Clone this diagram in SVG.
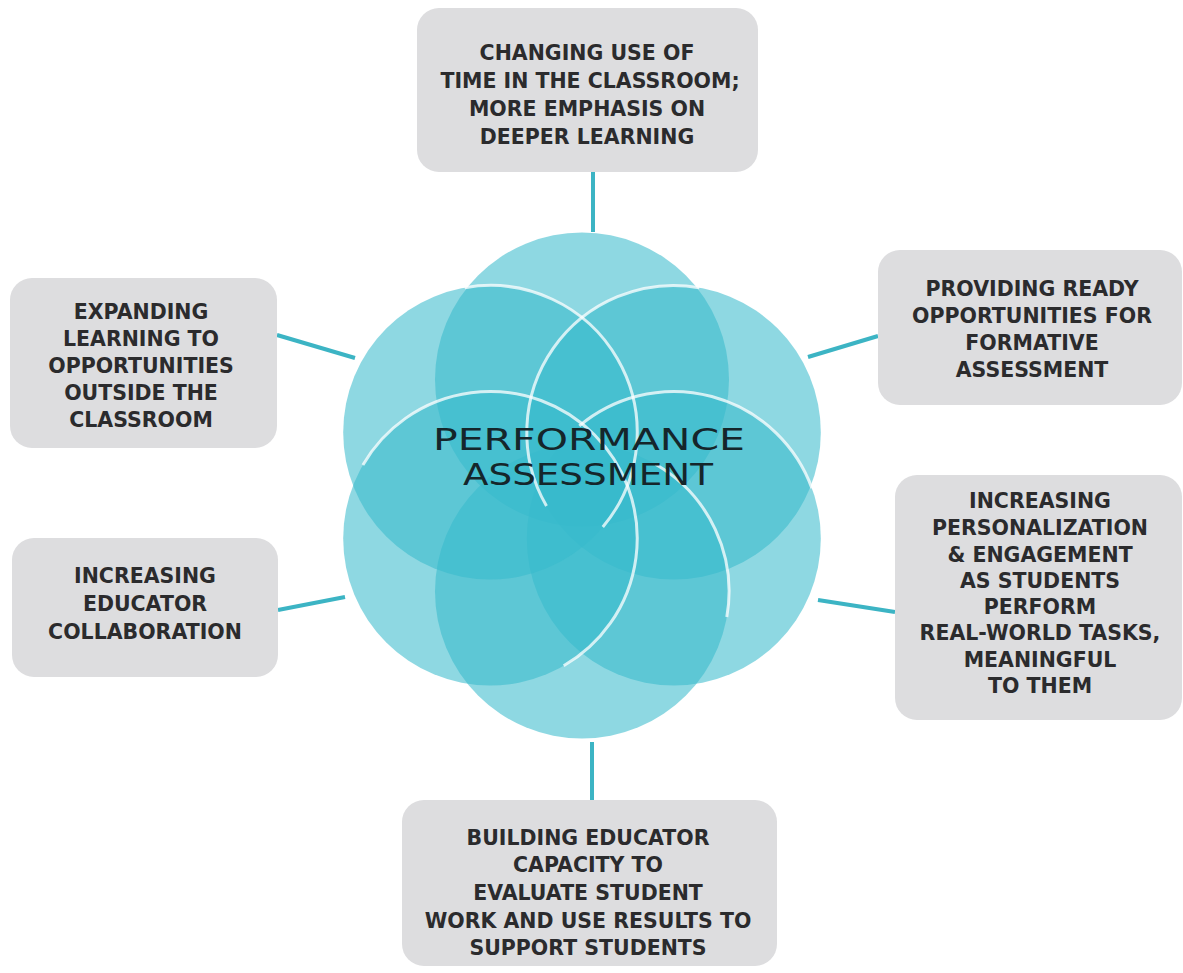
<svg xmlns="http://www.w3.org/2000/svg" width="1183" height="973" viewBox="0 0 1183 973">
<style>
.box{fill:#DDDDDF;}
.lbl{font-family:"DejaVu Sans","Liberation Sans",sans-serif;font-weight:700;font-size:20.5px;fill:#2B2B2D;text-anchor:middle;}
.petal{fill:#37BACC;fill-opacity:0.566;}
.weave{fill:none;stroke:#FFFFFF;stroke-opacity:0.75;stroke-width:3;}
.conn{stroke:#3CB4C4;stroke-width:4;fill:none;}
.center{font-family:"DejaVu Sans","Liberation Sans",sans-serif;font-weight:400;font-size:31px;fill:#15262B;text-anchor:middle;}
</style>
<rect width="1183" height="973" fill="#FFFFFF"/>
<g id="connectors">
<line class="conn" x1="593" y1="172" x2="593" y2="232"/>
<line class="conn" x1="592" y1="742" x2="592" y2="800"/>
<line class="conn" x1="277" y1="335" x2="355" y2="358"/>
<line class="conn" x1="808" y1="357" x2="878" y2="336"/>
<line class="conn" x1="278" y1="610" x2="345" y2="597"/>
<line class="conn" x1="818" y1="600" x2="895" y2="612"/>
</g>
<g id="flower">
<circle class="petal" cx="582" cy="379.5" r="147"/>
<circle class="petal" cx="673.8" cy="432.5" r="147"/>
<circle class="petal" cx="673.8" cy="538.5" r="147"/>
<circle class="petal" cx="582" cy="591.5" r="147"/>
<circle class="petal" cx="490.2" cy="538.5" r="147"/>
<circle class="petal" cx="490.2" cy="432.5" r="147"/>
<path class="weave" d="M464.7,287.7 A147,147 0 0 1 602.8,527"/>
<path class="weave" d="M546.5,506 A147,147 0 0 1 699.3,287.7"/>
<path class="weave" d="M362.9,465 A147,147 0 1 1 563.7,665.8"/>
<path class="weave" d="M579.3,425.9 A147,147 0 0 1 811.9,488.2"/>
<path class="weave" d="M655.5,464.2 A147,147 0 0 1 726.8,617"/>
<text class="center" x="589" y="450" textLength="312" lengthAdjust="spacingAndGlyphs">PERFORMANCE</text>
<text class="center" x="588" y="485" textLength="250" lengthAdjust="spacingAndGlyphs">ASSESSMENT</text>
</g>
<g id="node-top">
<rect class="box" x="417" y="8" width="341" height="164" rx="22"/>
<text class="lbl" x="587" y="60">CHANGING USE OF</text>
<text class="lbl" x="590" y="88">TIME IN THE CLASSROOM;</text>
<text class="lbl" x="587" y="116">MORE EMPHASIS ON</text>
<text class="lbl" x="587" y="144">DEEPER LEARNING</text>
</g>
<g id="node-left-top">
<rect class="box" x="10" y="278" width="267" height="170" rx="22"/>
<text class="lbl" x="141" y="319">EXPANDING</text>
<text class="lbl" x="141" y="346">LEARNING TO</text>
<text class="lbl" x="141" y="373">OPPORTUNITIES</text>
<text class="lbl" x="141" y="400">OUTSIDE THE</text>
<text class="lbl" x="141" y="427">CLASSROOM</text>
</g>
<g id="node-right-top">
<rect class="box" x="878" y="250" width="304" height="155" rx="22"/>
<text class="lbl" x="1032" y="296">PROVIDING READY</text>
<text class="lbl" x="1032" y="323">OPPORTUNITIES FOR</text>
<text class="lbl" x="1032" y="350">FORMATIVE</text>
<text class="lbl" x="1032" y="377">ASSESSMENT</text>
</g>
<g id="node-left-bottom">
<rect class="box" x="12" y="538" width="266" height="139" rx="22"/>
<text class="lbl" x="145" y="583">INCREASING</text>
<text class="lbl" x="145" y="611">EDUCATOR</text>
<text class="lbl" x="145" y="639">COLLABORATION</text>
</g>
<g id="node-right-bottom">
<rect class="box" x="895" y="475" width="287" height="245" rx="22"/>
<text class="lbl" x="1040" y="508">INCREASING</text>
<text class="lbl" x="1040" y="535">PERSONALIZATION</text>
<text class="lbl" x="1040" y="562">&amp; ENGAGEMENT</text>
<text class="lbl" x="1040" y="588">AS STUDENTS</text>
<text class="lbl" x="1040" y="614">PERFORM</text>
<text class="lbl" x="1040" y="640">REAL-WORLD TASKS,</text>
<text class="lbl" x="1040" y="667">MEANINGFUL</text>
<text class="lbl" x="1040" y="693">TO THEM</text>
</g>
<g id="node-bottom">
<rect class="box" x="402" y="800" width="375" height="166" rx="22"/>
<text class="lbl" x="588" y="845">BUILDING EDUCATOR</text>
<text class="lbl" x="588" y="872">CAPACITY TO</text>
<text class="lbl" x="588" y="900">EVALUATE STUDENT</text>
<text class="lbl" x="588" y="928">WORK AND USE RESULTS TO</text>
<text class="lbl" x="588" y="955">SUPPORT STUDENTS</text>
</g>
</svg>
